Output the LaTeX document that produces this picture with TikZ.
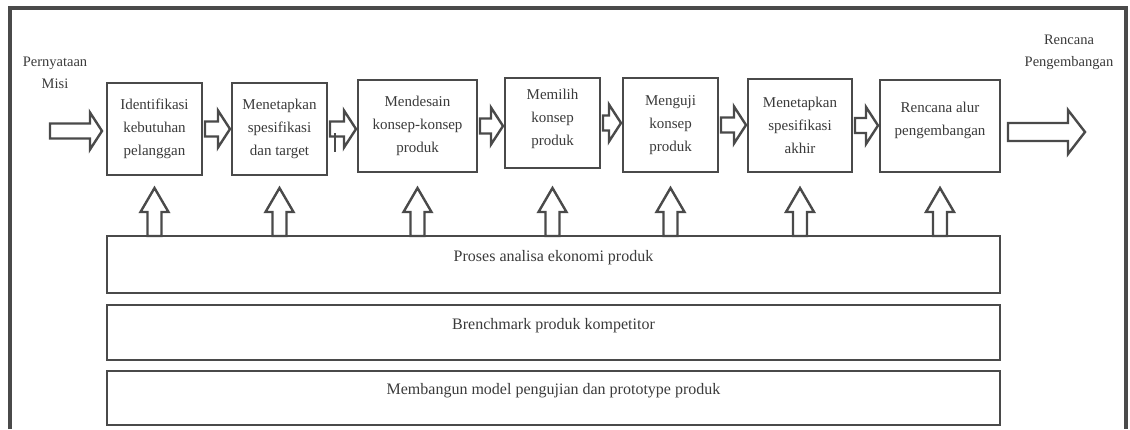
\documentclass[tikz,border=0pt]{standalone}
\usepackage{fontspec}
\setmainfont{Liberation Serif}
\usepackage{tikz}
\usetikzlibrary{calc}

\definecolor{linegray}{HTML}{4A4A4A}
\definecolor{textgray}{HTML}{3A3A3A}

\tikzset{
  stage/.style={draw=linegray, line width=2.6pt, outer sep=0pt, align=center,
    font=\fontsize{15}{23}\selectfont, text=textgray},
  bar/.style={draw=linegray, line width=2.6pt, outer sep=0pt, minimum width=893pt,
    font=\fontsize{16}{20}\selectfont, text=textgray, text depth=18pt},
  blockarrow/.style={draw=linegray, line width=2.4pt, fill=white},
  sidetext/.style={align=center, font=\fontsize{14.5}{22}\selectfont, text=textgray}
}

% hollow arrow pointing right: from, to, shaft half, head half, head length
\newcommand{\blockright}[5]{%
  \draw[blockarrow] let \p1=(#1), \p2=(#2) in
    (\x1,\y1+#3pt) -- (\x2-#5pt,\y1+#3pt) -- (\x2-#5pt,\y1+#4pt) -- (\x2,\y1)
    -- (\x2-#5pt,\y1-#4pt) -- (\x2-#5pt,\y1-#3pt) -- (\x1,\y1-#3pt) -- cycle;}
% hollow arrow pointing up: from, to, shaft half, head half, head length
\newcommand{\blockup}[5]{%
  \draw[blockarrow] let \p1=(#1), \p2=(#2) in
    (\x1-#3pt,\y1) -- (\x1-#3pt,\y2-#5pt) -- (\x1-#4pt,\y2-#5pt) -- (\x1,\y2)
    -- (\x1+#4pt,\y2-#5pt) -- (\x1+#3pt,\y2-#5pt) -- (\x1+#3pt,\y1) -- cycle;}

\begin{document}
\begin{tikzpicture}[x=1pt,y=-1pt]
  \useasboundingbox (0,0) rectangle (1130,429);
  % frame
  \draw[draw=linegray, line width=3.5pt] (10,429) -- (10,8) -- (1126,8) -- (1126,429);

  % stages
  \node[stage, minimum width=95pt, minimum height=92pt] (b1) at (154.5,129) {Identifikasi\\kebutuhan\\pelanggan};
  \node[stage, minimum width=95pt, minimum height=92pt] (b2) at (279.5,129) {Menetapkan\\spesifikasi\\dan target};
  \node[stage, minimum width=119pt, minimum height=92pt] (b3) at (417.5,126) {Mendesain\\konsep-konsep\\produk};
  \node[stage, minimum width=95pt, minimum height=90pt, text depth=12pt] (b4) at (552.5,123) {Memilih\\konsep\\produk};
  \node[stage, minimum width=95pt, minimum height=94pt] (b5) at (670.5,125) {Menguji\\konsep\\produk};
  \node[stage, minimum width=104pt, minimum height=93pt] (b6) at (800,125.5) {Menetapkan\\spesifikasi\\akhir};
  \node[stage, minimum width=120pt, minimum height=92pt, text depth=14pt] (b7) at (940,126) {Rencana alur\\pengembangan};

  % supporting activities
  \node[bar, minimum height=57pt] (bar1) at (553.5,264.5) {Proses analisa ekonomi produk};
  \node[bar, minimum height=55pt] (bar2) at (553.5,332.5) {Brenchmark produk kompetitor};
  \node[bar, minimum height=54pt] (bar3) at (553.5,398) {Membangun model pengujian dan prototype produk};

  % input and output
  \node[sidetext] (misi) at (55,73) {Pernyataan\\Misi};
  \node[sidetext] (rencana) at (1069,52) {Rencana\\Pengembangan};
  \coordinate (in) at (50,131);
  \coordinate (out) at (1085,132);
  \coordinate (tipline) at (0,188);

  \blockright{in}{$(b1.west)+(-5,0)$}{7.5}{18.5}{12}
  \foreach \a/\b in {b1/b2,b2/b3,b3/b4,b4/b5,b5/b6,b6/b7}
    {\blockright{$(\a.east)+(3,0)$}{$(\b.west)+(-2,0)$}{7.5}{18.5}{12}}
  \blockright{$(b7.east)+(8,6)$}{out}{9}{22}{17}

  \foreach \b in {b1,b2,b3,b4,b5,b6,b7}
    {\blockup{\b.south |- bar1.north}{\b.south |- tipline}{7}{14}{24}}

  \draw[linegray, line width=1.5pt] (335,133) -- (335,152);
\end{tikzpicture}
\end{document}
